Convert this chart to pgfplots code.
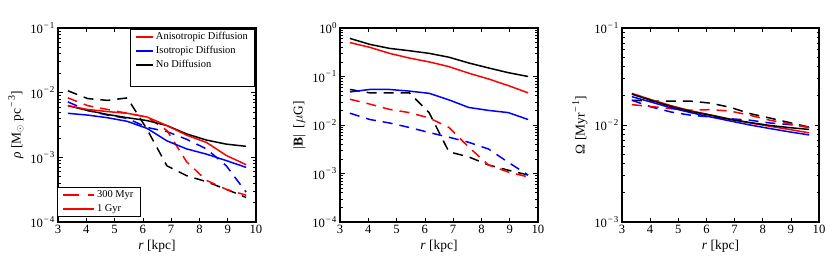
\documentclass[border=0pt]{standalone}
\usepackage{fontspec}
\setmainfont{Liberation Serif}
\usepackage{pgfplots}
\pgfplotsset{compat=1.18}
\usepackage{pgfplotstable}

\newcommand{\ex}[1]{\raisebox{0.45em}{\fontsize{9}{9}\selectfont\makebox[0.78em][c]{−}#1}}
\newcommand{\exz}[1]{\raisebox{0.45em}{\fontsize{9}{9}\selectfont #1}}
\newcommand{\lsup}[1]{\raisebox{0.42em}{\fontsize{10}{10}\selectfont\makebox[0.78em][c]{−}#1}}

\pgfplotstableread{
x     an1     an3     is1     is3     no1     no3
3.35  6.3e-3  8.3e-3  4.8e-3  7.2e-3  6.3e-3  1.07e-2
4.05  5.5e-3  6.3e-3  4.5e-3  5.3e-3  5.3e-3  8.1e-3
4.75  5.1e-3  5.5e-3  4.1e-3  4.5e-3  4.6e-3  7.6e-3
5.45  4.8e-3  4.8e-3  3.6e-3  4.0e-3  4.1e-3  8.3e-3
6.15  4.2e-3  4.2e-3  2.8e-3  2.9e-3  3.7e-3  2.7e-3
6.85  3.1e-3  2.6e-3  1.8e-3  2.5e-3  3.1e-3  7.4e-4
7.55  2.2e-3  8.5e-4  1.35e-3 1.9e-3  2.3e-3  5.2e-4
8.25  1.7e-3  4.4e-4  1.12e-3 1.35e-3 1.85e-3 4.2e-4
8.95  1.07e-3 3.2e-4  8.9e-4  7.4e-4  1.6e-3  3.2e-4
9.65  7.7e-4  2.6e-4  7.0e-4  2.9e-4  1.48e-3 2.4e-4
}\rhotab

\pgfplotstableread{
x     an1     an3     is1     is3     no1     no3
3.35  0.50    0.034   0.048   0.0175  0.61    0.054
4.05  0.40    0.027   0.054   0.013   0.46    0.046
4.75  0.30    0.021   0.054   0.011   0.38    0.046
5.45  0.24    0.018   0.050   8.9e-3  0.34    0.046
6.15  0.20    0.014   0.045   7.0e-3  0.30    0.018
6.85  0.16    8.9e-3  0.033   5.6e-3  0.25    2.8e-3
7.55  0.117   3.5e-3  0.023   4.4e-3  0.19    2.2e-3
8.25  0.089   1.5e-3  0.020   3.2e-3  0.15    1.5e-3
8.95  0.065   1.07e-3 0.018   1.7e-3  0.12    1.17e-3
9.65  0.046   8.5e-4  0.013   9.3e-4  0.10    9.3e-4
}\btab

\pgfplotstableread{
x     an1     an3     is1     is3     no1     no3
3.35  0.0212  0.0162  0.0196  0.0180  0.0208  0.0180
4.05  0.0182  0.0155  0.0172  0.0153  0.0179  0.0177
4.75  0.0158  0.0147  0.0150  0.0136  0.0155  0.0176
5.45  0.0140  0.0142  0.0134  0.0126  0.0138  0.0176
6.15  0.0127  0.0144  0.0121  0.0121  0.0126  0.0168
6.85  0.0115  0.0139  0.0110  0.0116  0.0114  0.0152
7.55  0.0105  0.0126  0.0100  0.0112  0.0106  0.0131
8.25  0.0097  0.0112  0.0092  0.0105  0.0099  0.0118
8.95  0.0090  0.0103  0.0085  0.0101  0.0094  0.0106
9.65  0.0083  0.0094  0.0079  0.0095  0.0090  0.0095
}\omtab

\pgfplotsset{
  chartpanel/.style={
    scale only axis, width=198bp, height=194bp,
    anchor=south west,
    xmin=3, xmax=10, xtick={3,...,10},
    /pgf/number format/assume math mode=true,
    tick label style={font=\fontsize{12.7}{14}\selectfont},
    label style={font=\fontsize{13.5}{15}\selectfont},
    axis line style={line width=1.2bp},
    major tick length=4.5bp, minor tick length=2.5bp,
    tick style={black, line width=0.7bp},
    xlabel={\textit{r} [kpc]},
    xlabel style={yshift=1bp},
  },
  mylegend/.style={
    legend cell align=left,
    legend style={font=\fontsize{10.5}{11.5}\selectfont, draw=black, line width=1.2bp,
      inner xsep=5bp, inner ysep=0.5bp, row sep=0bp,
      nodes={inner ysep=2bp, text height=7.5bp, text depth=2.5bp},
      /tikz/every even column/.append style={column sep=6bp}},
  },
}
\tikzset{
  sol/.style={line width=1.5bp},
  das/.style={line width=1.5bp, dash pattern=on 10bp off 7bp},
}

\begin{document}
\begin{tikzpicture}
\useasboundingbox (0,0) rectangle (830bp,274bp);

% Panel 1
\begin{semilogyaxis}[chartpanel, at={(58bp,52bp)},
  ymin=1e-4, ymax=1e-1,
  ytick={1e-4,1e-3,1e-2,1e-1},
  yticklabels={10\ex{4},10\ex{3},10\ex{2},10\ex{1}},
  minor ytick={2e-4,3e-4,4e-4,5e-4,6e-4,7e-4,8e-4,9e-4,2e-3,3e-3,4e-3,5e-3,6e-3,7e-3,8e-3,9e-3,2e-2,3e-2,4e-2,5e-2,6e-2,7e-2,8e-2,9e-2},
  ylabel={\textit{ρ} [M$_\odot$~pc\lsup{3}]},
  mylegend,
  legend style={at={(1,1)}, anchor=north east, xshift=-0.5bp, yshift=-1bp},
]
\addlegendimage{legend image code/.code={\draw[red, line width=1.5bp] (0bp,0bp) -- (17bp,0bp);}}\addlegendentry{Anisotropic Diffusion}
\addlegendimage{legend image code/.code={\draw[blue, line width=1.5bp] (0bp,0bp) -- (17bp,0bp);}}\addlegendentry{Isotropic Diffusion}
\addlegendimage{legend image code/.code={\draw[black, line width=1.5bp] (0bp,0bp) -- (17bp,0bp);}}\addlegendentry{No Diffusion}
\addlegendimage{empty legend}\addlegendentry{}
\addplot[black, das, forget plot] table[x=x,y=no3] {\rhotab};
\addplot[blue, das, forget plot] table[x=x,y=is3] {\rhotab};
\addplot[red, das, forget plot] table[x=x,y=an3] {\rhotab};
\addplot[black, sol, forget plot] table[x=x,y=no1] {\rhotab};
\addplot[blue, sol, forget plot] table[x=x,y=is1] {\rhotab};
\addplot[red, sol, forget plot] table[x=x,y=an1] {\rhotab};
\end{semilogyaxis}

% second legend of panel 1
\begin{axis}[scale only axis, width=198bp, height=194bp, anchor=south west,
  at={(58bp,52bp)}, hide axis, xmin=0, xmax=1, ymin=0, ymax=1,
  mylegend,
  legend style={at={(0,0)}, anchor=south west, xshift=-1bp, yshift=5bp},
]
\addlegendimage{legend image code/.code={\draw[red, line width=1.5bp, dash pattern=on 16bp off 9bp] (0bp,0bp) -- (31bp,0bp);}}\addlegendentry{300 Myr}
\addlegendimage{legend image code/.code={\draw[red, line width=1.5bp] (0bp,0bp) -- (31bp,0bp);}}\addlegendentry{1 Gyr}
\end{axis}

% Panel 2
\begin{semilogyaxis}[chartpanel, at={(340bp,52bp)},
  ymin=1e-4, ymax=1,
  ytick={1e-4,1e-3,1e-2,1e-1,1},
  yticklabels={10\ex{4},10\ex{3},10\ex{2},10\ex{1},10\exz{0}},
  minor ytick={2e-4,3e-4,4e-4,5e-4,6e-4,7e-4,8e-4,9e-4,2e-3,3e-3,4e-3,5e-3,6e-3,7e-3,8e-3,9e-3,2e-2,3e-2,4e-2,5e-2,6e-2,7e-2,8e-2,9e-2,0.2,0.3,0.4,0.5,0.6,0.7,0.8,0.9},
  ylabel={|$\mathbf{B}$|~~[$\mu$G]},
]
\addplot[black, das] table[x=x,y=no3] {\btab};
\addplot[blue, das] table[x=x,y=is3] {\btab};
\addplot[red, das] table[x=x,y=an3] {\btab};
\addplot[black, sol] table[x=x,y=no1] {\btab};
\addplot[blue, sol] table[x=x,y=is1] {\btab};
\addplot[red, sol] table[x=x,y=an1] {\btab};
\end{semilogyaxis}

% Panel 3
\begin{semilogyaxis}[chartpanel, at={(622bp,52bp)}, width=197bp,
  ymin=1e-3, ymax=1e-1,
  ytick={1e-3,1e-2,1e-1},
  yticklabels={10\ex{3},10\ex{2},10\ex{1}},
  minor ytick={2e-3,3e-3,4e-3,5e-3,6e-3,7e-3,8e-3,9e-3,2e-2,3e-2,4e-2,5e-2,6e-2,7e-2,8e-2,9e-2},
  ylabel={Ω [Myr\lsup{1}]},
]
\addplot[black, das] table[x=x,y=no3] {\omtab};
\addplot[blue, das] table[x=x,y=is3] {\omtab};
\addplot[red, das] table[x=x,y=an3] {\omtab};
\addplot[blue, sol] table[x=x,y=is1] {\omtab};
\addplot[red, sol] table[x=x,y=an1] {\omtab};
\addplot[black, sol] table[x=x,y=no1] {\omtab};
\end{semilogyaxis}
\end{tikzpicture}
\end{document}
